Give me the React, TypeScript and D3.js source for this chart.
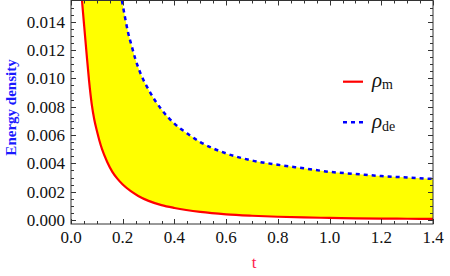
import React from "react";
import * as d3 from "d3";

// matter density (red)
const tRed = [0.0425, 0.05, 0.06, 0.07, 0.08, 0.09, 0.1, 0.11, 0.12, 0.14, 0.16, 0.18, 0.2, 0.23, 0.26, 0.3, 0.35, 0.4, 0.5, 0.6, 0.7, 0.8, 0.9, 1.0, 1.1, 1.2, 1.3, 1.4];
const rhoM = [0.0155, 0.0139, 0.0118, 0.0098, 0.0082, 0.0071, 0.0063, 0.0056, 0.005, 0.0041, 0.0034, 0.0029, 0.0025, 0.00205, 0.0017, 0.00135, 0.00105, 0.00085, 0.00057, 0.0004, 0.0003, 0.00023, 0.00018, 0.00015, 0.00012, 0.0001, 0.00009, 0.00008];

// dark energy density (blue dashed)
const tBlue = [0.197, 0.21, 0.22, 0.236, 0.25, 0.27, 0.3, 0.35, 0.4, 0.45, 0.5, 0.6, 0.7, 0.8, 0.9, 1.0, 1.1, 1.2, 1.3, 1.4];
const rhoDe = [0.0155, 0.0142, 0.0133, 0.0122, 0.0113, 0.0103, 0.0092, 0.0078, 0.0068, 0.0061, 0.0055, 0.0047, 0.0042, 0.0039, 0.00365, 0.0034, 0.00325, 0.0031, 0.003, 0.0029];

const xTicks = [0, 0.2, 0.4, 0.6, 0.8, 1.0, 1.2, 1.4];
const yTicks = [0, 0.002, 0.004, 0.006, 0.008, 0.01, 0.012, 0.014];

const W = 450;
const H = 276;
const left = 71;
const right = 433;
const top = 0.5;
const bottom = 224;

const serif = "'Liberation Serif', 'Times New Roman', serif";

export default function App() {
  const x = d3.scaleLinear().domain([0, 1.4]).range([left, right]);
  const y = d3.scaleLinear().domain([0, 0.014]).range([220, 21.7]);

  const red = tRed.map((t, i) => [t, rhoM[i]] as [number, number]);
  const blue = tBlue.map((t, i) => [t, rhoDe[i]] as [number, number]);

  const line = d3
    .line<[number, number]>()
    .x((d) => x(d[0]))
    .y((d) => y(d[1]))
    .curve(d3.curveMonotoneX);

  const redPath = line(red) || "";
  const bluePath = line(blue) || "";
  const fillPath = redPath + (line([...blue].reverse()) || "").replace(/^M/, "L") + "Z";

  const xMinor = d3.range(0, 1.4001, 0.05);
  const yMinor = d3.range(0, 0.0155, 0.0005);

  const tickStroke = "#333";

  return (
    <svg width={W} height={H} style={{ position: "absolute", left: 0, top: 0, background: "#fff" }}>
      <defs>
        <clipPath id="plot">
          <rect x={left} y={top} width={right - left} height={bottom - top} />
        </clipPath>
      </defs>

      <g clipPath="url(#plot)">
        <path d={fillPath} fill="#ffff00" stroke="none" />
        <path d={redPath} fill="none" stroke="#ff0000" strokeWidth={2.2} />
        <path d={bluePath} fill="none" stroke="#0000ff" strokeWidth={2.5} strokeDasharray="4,4" />
      </g>

      {/* frame */}
      <rect x={left} y={top} width={right - left} height={bottom - top} fill="none" stroke={tickStroke} strokeWidth={1} />

      {/* ticks on all sides */}
      <g stroke={tickStroke} strokeWidth={1}>
        {xMinor.map((v, i) => {
          const len = i % 4 === 0 ? 5 : 3;
          const px = Math.round(x(v)) + 0.5;
          return (
            <g key={"xm" + i}>
              <line x1={px} x2={px} y1={bottom} y2={bottom - len} />
              <line x1={px} x2={px} y1={top} y2={top + len} />
            </g>
          );
        })}
        {yMinor.map((v, i) => {
          const len = i % 4 === 0 ? 5 : 3;
          const py = Math.round(y(v)) + 0.5;
          return (
            <g key={"ym" + i}>
              <line x1={left} x2={left + len} y1={py} y2={py} />
              <line x1={right} x2={right - len} y1={py} y2={py} />
            </g>
          );
        })}
      </g>

      {/* tick labels */}
      <g style={{ fontFamily: serif, fontSize: "17px" }} fill="#111">
        {xTicks.map((v) => (
          <text key={"xl" + v} x={x(v)} y={242.5} textAnchor="middle">
            {v.toFixed(1)}
          </text>
        ))}
        {yTicks.map((v) => (
          <text key={"yl" + v} x={65} y={y(v) + 6} textAnchor="end">
            {v.toFixed(3)}
          </text>
        ))}
      </g>

      {/* axis titles */}
      <text x={254} y={268} textAnchor="middle" style={{ fontFamily: serif, fontSize: "17px" }} fill="#ff1a4d">
        t
      </text>
      <text
        transform="translate(16,107.5) rotate(-90)"
        textAnchor="middle"
        style={{ fontFamily: serif, fontSize: "15px", fontWeight: "bold" }}
        fill="#1a1aff"
      >
        Energy density
      </text>

      {/* legend */}
      <line x1={343} x2={363} y1={81.7} y2={81.7} stroke="#ff0000" strokeWidth={2.2} />
      <text x={372} y={87} style={{ fontFamily: serif }} fill="#111">
        <tspan style={{ fontSize: "21px", fontStyle: "italic" }}>ρ</tspan>
        <tspan style={{ fontSize: "14px" }} dy={1.5}>m</tspan>
      </text>
      <line x1={343} x2={363} y1={122.3} y2={122.3} stroke="#0000ff" strokeWidth={2.5} strokeDasharray="4,4" />
      <text x={372} y={128} style={{ fontFamily: serif }} fill="#111">
        <tspan style={{ fontSize: "21px", fontStyle: "italic" }}>ρ</tspan>
        <tspan style={{ fontSize: "14px" }} dy={3}>de</tspan>
      </text>
    </svg>
  );
}
